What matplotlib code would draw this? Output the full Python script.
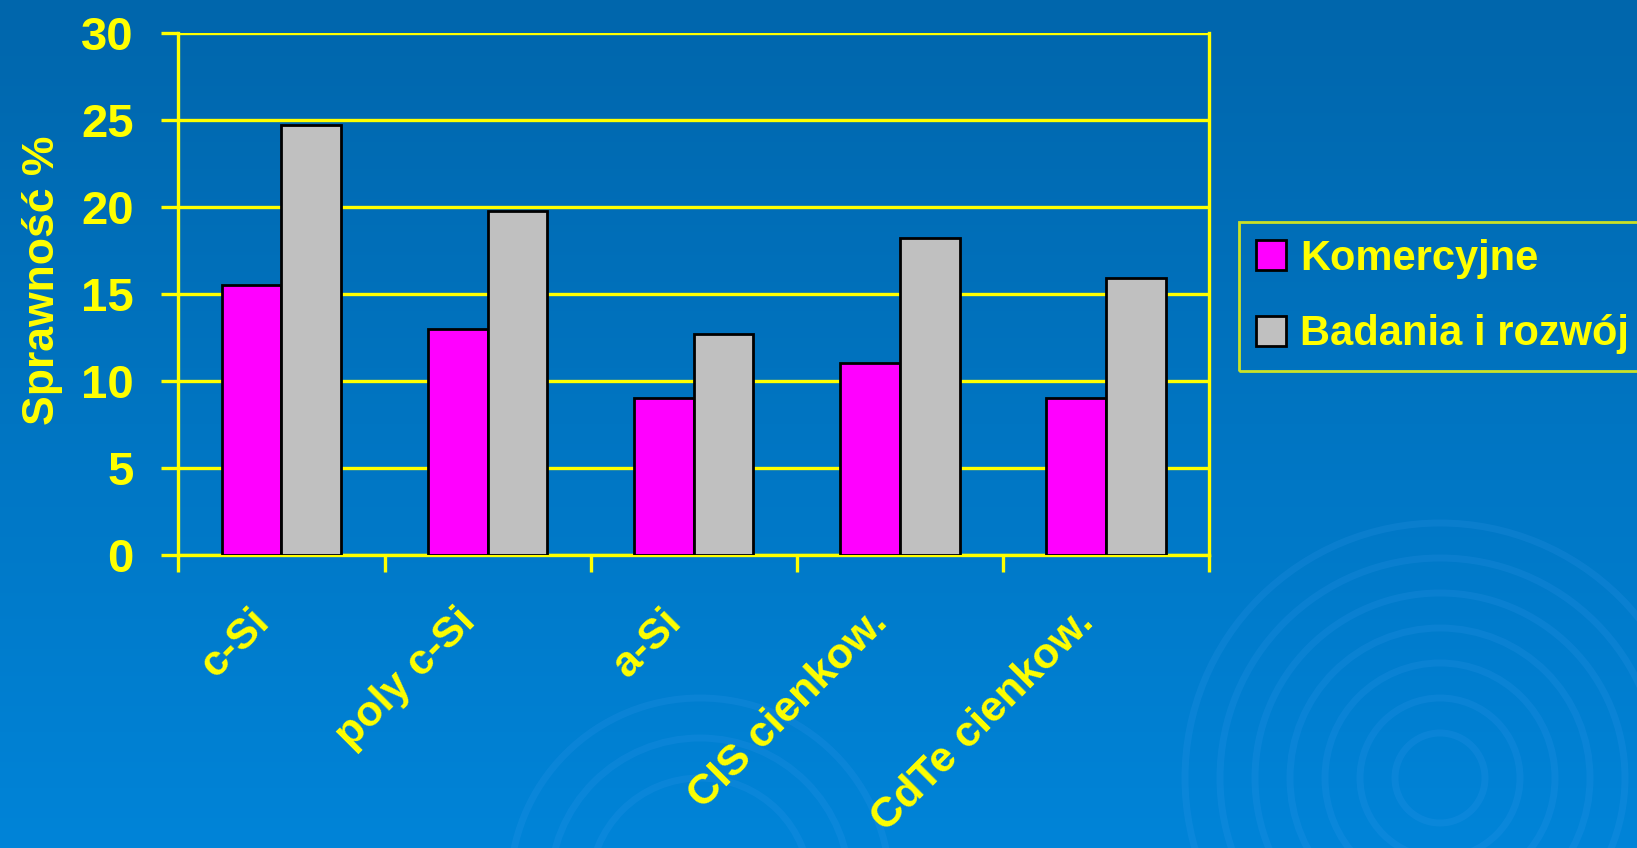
import numpy as np
import matplotlib
matplotlib.use("Agg")
import matplotlib.pyplot as plt
import matplotlib.transforms as mtransforms
from matplotlib.patches import Circle, Patch

categories = ["c-Si", "poly c-Si", "a-Si", "CIS cienkow.", "CdTe cienkow."]
komercyjne = [15.5, 13.0, 9.0, 11.0, 9.0]
badania = [24.7, 19.8, 12.7, 18.2, 15.9]
series_names = ["Komercyjne", "Badania i rozwój"]
yticks = [0, 5, 10, 15, 20, 25, 30]

YELLOW = "#FFFF00"
PINK = "#FF00FF"
GREY = "#C0C0C0"
FS = 32

plt.rcParams['font.family'] = ['Liberation Sans', 'DejaVu Sans']
plt.rcParams['font.weight'] = 'bold'

W, H = 1637, 848
fig = plt.figure(figsize=(W / 100, H / 100), dpi=100)

# background gradient, drawn in pixel units so the rings stay round
bg = fig.add_axes([0, 0, 1, 1], zorder=-10)
top = np.array([0, 102, 172]) / 255
bot = np.array([0, 132, 216]) / 255
t = np.linspace(0, 1, 256)[:, None]
grad = top[None, None, :] * (1 - t[..., None]) + bot[None, None, :] * t[..., None]
grad = np.repeat(grad, 2, axis=1)
bg.imshow(grad, aspect="auto", extent=[0, W, 0, H], origin="upper")
for cx, cy, radii in [(1440, 70, [45, 80, 115, 150, 185, 220, 255]),
                      (700, -40, [110, 150, 190])]:
    for r in radii:
        bg.add_patch(Circle((cx, cy), r, fill=False,
                            ec=(0.25, 0.62, 0.95), lw=5, alpha=0.16))
bg.set_xlim(0, W)
bg.set_ylim(0, H)
bg.axis("off")

ax = fig.add_axes([0.109, 0.346, 0.6295, 0.6146])
ax.set_facecolor("none")

x = np.arange(len(categories))
w = 0.29
ax.bar(x - w / 2, komercyjne, w, color=PINK, edgecolor="black", linewidth=2, zorder=3)
ax.bar(x + w / 2, badania, w, color=GREY, edgecolor="black", linewidth=2, zorder=3)

ax.set_xlim(-0.5, len(categories) - 0.5)
ax.set_ylim(0, 30)
ax.set_yticks(yticks)
ax.yaxis.grid(True, color=YELLOW, linewidth=2.4, zorder=1)
ax.set_axisbelow(True)

for s in ["left", "right", "bottom"]:
    ax.spines[s].set_color(YELLOW)
    ax.spines[s].set_linewidth(2.4)
ax.spines["top"].set_visible(False)

ax.tick_params(axis="y", colors=YELLOW, length=12, width=2.4, pad=20, labelsize=FS + 2)
ax.set_xticks(np.arange(-0.5, len(categories)), minor=False)
ax.set_xticklabels([])
ax.tick_params(axis="x", which="major", colors=YELLOW, length=12, width=2.4)
ax.set_xticks(x, minor=True)
ax.set_xticklabels(categories, minor=True, rotation=45, ha="right",
                   rotation_mode="anchor", va="center", fontsize=31, color=YELLOW)
ax.tick_params(axis="x", which="minor", length=0, pad=44)
offset = mtransforms.ScaledTranslation(-18 / 100, 0, fig.dpi_scale_trans)
for lab in ax.get_xticklabels(minor=True):
    lab.set_transform(lab.get_transform() + offset)

fig.text(0.026, 0.67, "Sprawność %", rotation=90, color=YELLOW, fontsize=FS,
         ha="center", va="center")

handles = [Patch(facecolor=PINK, edgecolor="black", linewidth=2),
           Patch(facecolor=GREY, edgecolor="black", linewidth=2)]
leg = fig.legend(handles, series_names, loc="upper left",
                 bbox_to_anchor=(0.757, 0.738), fontsize=30, frameon=True,
                 handlelength=0.72, handleheight=0.72, handletextpad=0.35,
                 labelspacing=0.85, borderpad=0.4, borderaxespad=0,
                 fancybox=False)
leg.get_frame().set_edgecolor(YELLOW)
leg.get_frame().set_facecolor("none")
leg.get_frame().set_linewidth(2)
for txt in leg.get_texts():
    txt.set_color(YELLOW)

fig.savefig("out.png", dpi=100)
